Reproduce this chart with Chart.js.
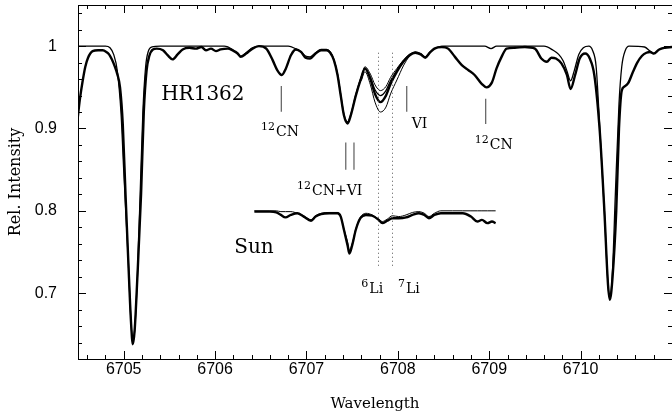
<!DOCTYPE html>
<html>
<head>
<meta charset="utf-8">
<script src="https://cdn.jsdelivr.net/npm/chart.js@4/dist/chart.umd.min.js"></script>
<style>
  html, body { margin: 0; padding: 0; background: #fff; }
  #wrap { width: 672px; height: 419px; }
</style>
</head>
<body>
<div id="wrap"><canvas id="chart" width="672" height="419"></canvas></div>
<script>
// HR1362 observed spectrum (thick line)
const obsWave = [6704.49, 6704.52, 6704.55, 6704.58, 6704.61, 6704.66, 6704.72, 6704.77, 6704.81, 6704.84,
  6704.87, 6704.90, 6704.93, 6704.96, 6704.99, 6705.02, 6705.05, 6705.08, 6705.10, 6705.12,
  6705.15, 6705.19, 6705.22, 6705.25, 6705.28, 6705.32, 6705.36, 6705.43, 6705.48, 6705.535,
  6705.59, 6705.645, 6705.72, 6705.79, 6705.85, 6705.90, 6705.955, 6706.01, 6706.06, 6706.14,
  6706.19, 6706.25, 6706.28, 6706.34, 6706.41, 6706.48, 6706.56, 6706.63, 6706.68, 6706.73,
  6706.775, 6706.83, 6706.885, 6706.94, 6706.99, 6707.04, 6707.10, 6707.16, 6707.22, 6707.26,
  6707.30, 6707.34, 6707.375, 6707.41, 6707.45, 6707.485, 6707.54, 6707.595, 6707.64, 6707.70,
  6707.75, 6707.81, 6707.87, 6707.92, 6707.99, 6708.06, 6708.13, 6708.19, 6708.25, 6708.30,
  6708.35, 6708.40, 6708.48, 6708.55, 6708.625, 6708.70, 6708.77, 6708.84, 6708.92, 6708.97,
  6709.03, 6709.08, 6709.135, 6709.19, 6709.28, 6709.39, 6709.50, 6709.57, 6709.63, 6709.68,
  6709.73, 6709.79, 6709.85, 6709.89, 6709.94, 6709.99, 6710.05, 6710.10, 6710.15, 6710.21,
  6710.26, 6710.30, 6710.32, 6710.35, 6710.39, 6710.42, 6710.45, 6710.48, 6710.52, 6710.57,
  6710.62, 6710.67, 6710.72, 6710.76, 6710.80, 6710.86, 6710.92, 6711.0];
const obsFlux = [0.906, 0.935, 0.957, 0.975, 0.986, 0.994, 0.995, 0.995, 0.993, 0.990,
  0.984, 0.976, 0.966, 0.950, 0.905, 0.820, 0.740, 0.665, 0.638, 0.655,
  0.720, 0.820, 0.920, 0.970, 0.988, 0.996, 0.997, 0.995, 0.989, 0.984,
  0.990, 0.996, 0.998, 0.997, 0.999, 0.995, 0.997, 0.994, 0.996, 0.997,
  0.995, 0.991, 0.987, 0.991, 0.997, 1.000, 0.997, 0.983, 0.971, 0.965,
  0.973, 0.989, 0.996, 0.993, 0.986, 0.985, 0.991, 0.995, 0.995, 0.992,
  0.983, 0.965, 0.940, 0.916, 0.906, 0.916, 0.940, 0.960, 0.973, 0.960,
  0.942, 0.932, 0.940, 0.954, 0.969, 0.981, 0.989, 0.992, 0.990, 0.986,
  0.992, 0.997, 0.999, 0.997, 0.987, 0.977, 0.971, 0.965, 0.954, 0.950,
  0.956, 0.973, 0.987, 0.997, 0.998, 0.999, 0.997, 0.985, 0.981, 0.986,
  0.985, 0.979, 0.965, 0.948, 0.965, 0.985, 0.991, 0.985, 0.965, 0.896,
  0.800, 0.710, 0.692, 0.720, 0.800, 0.900, 0.946, 0.951, 0.955, 0.968,
  0.980, 0.988, 0.992, 0.993, 0.991, 0.996, 0.998, 0.999];

// synthetic spectrum (thin line)
const synWave = [6704.49, 6704.80, 6704.85, 6704.89, 6704.93, 6704.97, 6705.00, 6705.05, 6705.08, 6705.10,
  6705.12, 6705.15, 6705.18, 6705.21, 6705.24, 6705.27, 6705.31, 6705.40, 6706.10, 6706.19,
  6706.25, 6706.28, 6706.34, 6706.41, 6706.48, 6706.80, 6706.88, 6706.94, 6706.99, 6707.04,
  6707.10, 6707.16, 6707.22, 6707.26, 6707.30, 6707.34, 6707.375, 6707.41, 6707.45, 6707.485,
  6707.54, 6707.595, 6707.64, 6707.70, 6707.75, 6707.81, 6707.87, 6707.92, 6707.99, 6708.06,
  6708.13, 6708.19, 6708.25, 6708.30, 6708.35, 6708.42, 6708.50, 6708.95, 6709.02, 6709.08,
  6709.60, 6709.70, 6709.76, 6709.81, 6709.85, 6709.89, 6709.93, 6709.98, 6710.03, 6710.09,
  6710.13, 6710.17, 6710.21, 6710.26, 6710.30, 6710.32, 6710.35, 6710.38, 6710.42, 6710.45,
  6710.49, 6710.53, 6710.70, 6710.76, 6710.80, 6710.86, 6710.92, 6711.0];
const synFlux = [1.000, 1.000, 0.998, 0.990, 0.970, 0.920, 0.850, 0.740, 0.665, 0.640,
  0.655, 0.720, 0.820, 0.920, 0.975, 0.994, 0.999, 1.000, 1.000, 0.996,
  0.990, 0.988, 0.992, 0.998, 1.000, 1.000, 0.997, 0.993, 0.988, 0.987,
  0.992, 0.996, 0.996, 0.993, 0.984, 0.966, 0.941, 0.917, 0.908, 0.917,
  0.941, 0.961, 0.972, 0.962, 0.947, 0.940, 0.946, 0.958, 0.971, 0.982,
  0.990, 0.993, 0.991, 0.987, 0.993, 0.998, 1.000, 1.000, 0.997, 1.000,
  1.000, 0.995, 0.990, 0.982, 0.970, 0.958, 0.970, 0.990, 0.998, 1.000,
  0.995, 0.975, 0.900, 0.800, 0.710, 0.693, 0.730, 0.820, 0.930, 0.975,
  0.995, 1.000, 0.999, 0.994, 0.991, 0.996, 0.998, 0.999];

// synthetic Li profiles, lower and higher Li
const liWave = [6707.60, 6707.64, 6707.70, 6707.75, 6707.81, 6707.87, 6707.92, 6707.99, 6708.06, 6708.13];
const liLowFlux = [0.962, 0.975, 0.966, 0.953, 0.946, 0.951, 0.962, 0.973, 0.983, 0.990];
const liHighFlux = [0.958, 0.969, 0.953, 0.932, 0.920, 0.926, 0.942, 0.959, 0.976, 0.989];

// solar spectrum, shifted down by 0.2
const sunWave = [6706.43, 6706.60, 6706.67, 6706.72, 6706.77, 6706.83, 6706.90, 6706.97, 6707.05, 6707.10,
  6707.16, 6707.25, 6707.34, 6707.375, 6707.41, 6707.45, 6707.47, 6707.50, 6707.54, 6707.59,
  6707.65, 6707.72, 6707.79, 6707.83, 6707.885, 6707.94, 6708.01, 6708.09, 6708.16, 6708.23,
  6708.29, 6708.34, 6708.40, 6708.47, 6708.60, 6708.71, 6708.80, 6708.87, 6708.92, 6708.98,
  6709.03, 6709.07];
const sunObsFlux = [0.799, 0.799, 0.798, 0.795, 0.792, 0.795, 0.797, 0.793, 0.788, 0.793,
  0.796, 0.797, 0.797, 0.793, 0.777, 0.758, 0.748, 0.758, 0.777, 0.791,
  0.795, 0.794, 0.789, 0.785, 0.788, 0.791, 0.791, 0.792, 0.795, 0.797,
  0.795, 0.791, 0.795, 0.797, 0.797, 0.797, 0.793, 0.787, 0.789, 0.785,
  0.787, 0.785];
const sunSynFlux = [0.800, 0.800, 0.800, 0.799, 0.799, 0.799, 0.797, 0.794, 0.789, 0.794,
  0.797, 0.798, 0.798, 0.793, 0.778, 0.762, 0.752, 0.760, 0.778, 0.792,
  0.797, 0.795, 0.790, 0.787, 0.790, 0.794, 0.793, 0.795, 0.798, 0.799,
  0.797, 0.793, 0.797, 0.800, 0.800, 0.800, 0.800, 0.800, 0.800, 0.800,
  0.800, 0.800];

const xTicks = [6705, 6706, 6707, 6708, 6709, 6710];
const yTicks = [0.7, 0.8, 0.9, 1];

// line identifications: [wavelength, top flux, bottom flux]
const markers = [[6706.725, 0.9515, 0.9204], [6708.097, 0.9515, 0.9204], [6708.961, 0.936, 0.9054],
  [6707.43, 0.883, 0.850], [6707.52, 0.883, 0.850]];
const liLines = [6707.78, 6707.933];
// labels: [sup, text, wavelength, flux]
const idLabels = [['12', 'CN', 6706.71, 0.891], ['', 'VI', 6708.237, 0.9005], ['12', 'CN', 6709.05, 0.8748],
  ['12', 'CN+VI', 6707.254, 0.8197], ['6', 'Li', 6707.72, 0.6998], ['7', 'Li', 6708.12, 0.6998]];
const starLabels = [['HR1362', 6705.41, 0.935], ['Sun', 6706.21, 0.749]];

function pts(xs, ys) { return xs.map((x, i) => ({ x: x, y: ys[i] })); }

function line(data, width) {
  return {
    data: data, showLine: true, borderColor: '#000', borderWidth: width,
    pointRadius: 0, cubicInterpolationMode: 'monotone', fill: false
  };
}

const framePlugin = {
  id: 'frame',
  afterDatasetsDraw(chart) {
    const { ctx, chartArea: a, scales: { x, y } } = chart;
    ctx.save();
    ctx.strokeStyle = '#000';
    ctx.lineWidth = 1;
    ctx.strokeRect(a.left + 0.5, a.top + 0.5, a.right - a.left, a.bottom - a.top);
    ctx.beginPath();
    for (let i = Math.ceil(x.min * 5); i <= Math.floor(x.max * 5); i++) {
      const px = Math.round(x.getPixelForValue(i / 5)) + 0.5;
      const len = i % 5 === 0 ? 8 : 4;
      ctx.moveTo(px, a.bottom); ctx.lineTo(px, a.bottom - len);
      ctx.moveTo(px, a.top); ctx.lineTo(px, a.top + len);
    }
    for (let i = Math.ceil(y.min * 50); i <= Math.floor(y.max * 50); i++) {
      const py = Math.round(y.getPixelForValue(i / 50)) + 0.5;
      const len = i % 5 === 0 ? 8 : 4;
      ctx.moveTo(a.left, py); ctx.lineTo(a.left + len, py);
      ctx.moveTo(a.right, py); ctx.lineTo(a.right - len, py);
    }
    ctx.stroke();

    // identification ticks
    ctx.strokeStyle = '#6a6a6a';
    ctx.lineWidth = 1.3;
    ctx.beginPath();
    markers.forEach(m => {
      const px = x.getPixelForValue(m[0]);
      ctx.moveTo(px, y.getPixelForValue(m[1]));
      ctx.lineTo(px, y.getPixelForValue(m[2]));
    });
    ctx.stroke();

    // Li positions, dotted
    ctx.strokeStyle = '#555';
    ctx.lineWidth = 1;
    ctx.setLineDash([1, 3]);
    ctx.beginPath();
    liLines.forEach(w => {
      const px = Math.round(x.getPixelForValue(w)) + 0.5;
      ctx.moveTo(px, y.getPixelForValue(0.992));
      ctx.lineTo(px, y.getPixelForValue(0.73));
    });
    ctx.stroke();
    ctx.setLineDash([]);

    ctx.fillStyle = '#000';
    ctx.textBaseline = 'alphabetic';
    idLabels.forEach(l => {
      const supFont = '11px "DejaVu Serif"', mainFont = '14px "DejaVu Serif"';
      ctx.font = supFont;
      const ws = l[0] ? ctx.measureText(l[0]).width + 1 : 0;
      ctx.font = mainFont;
      const wm = ctx.measureText(l[1]).width;
      const x0 = x.getPixelForValue(l[2]) - (ws + wm) / 2;
      const by = y.getPixelForValue(l[3]);
      if (l[0]) {
        ctx.font = supFont;
        ctx.fillText(l[0], x0, by - 6);
      }
      ctx.font = mainFont;
      ctx.fillText(l[1], x0 + ws, by);
    });
    ctx.font = '20px "DejaVu Serif"';
    starLabels.forEach(l => {
      ctx.fillText(l[0], x.getPixelForValue(l[1]), y.getPixelForValue(l[2]));
    });
    ctx.restore();
  }
};

new Chart(document.getElementById('chart'), {
  type: 'scatter',
  data: {
    datasets: [
      line(pts(obsWave, obsFlux), 2.4),
      line(pts(synWave, synFlux), 1.3),
      line(pts(liWave, liLowFlux), 1),
      line(pts(liWave, liHighFlux), 1),
      line(pts(sunWave, sunObsFlux), 2.4),
      line(pts(sunWave, sunSynFlux), 1)
    ]
  },
  options: {
    responsive: false,
    animation: false,
    layout: { padding: { top: 5, right: 0, left: 0, bottom: 0 } },
    plugins: { legend: { display: false }, tooltip: { enabled: false } },
    scales: {
      x: {
        type: 'linear', min: 6704.5, max: 6711,
        grid: { display: false }, border: { display: false },
        afterBuildTicks: s => { s.ticks = xTicks.map(v => ({ value: v })); },
        afterFit: s => { s.height = 60; s.paddingLeft = 0; s.paddingRight = 0; },
        ticks: {
          color: '#000', padding: -7, maxRotation: 0,
          font: { family: 'Liberation Sans', size: 16 },
          callback: v => String(v)
        },
        title: {
          display: true, text: 'Wavelength', color: '#000',
          font: { family: 'DejaVu Serif', size: 15 },
          padding: { top: 0, bottom: 6 }
        }
      },
      y: {
        type: 'linear', min: 0.62, max: 1.05,
        grid: { display: false }, border: { display: false },
        afterBuildTicks: s => { s.ticks = yTicks.map(v => ({ value: v })); },
        afterFit: s => { s.width = 78; s.paddingTop = 0; s.paddingBottom = 0; },
        ticks: {
          color: '#000', padding: 13,
          font: { family: 'Liberation Sans', size: 16 },
          callback: v => (v === 1 ? '1' : v.toFixed(1))
        },
        title: {
          display: true, text: 'Rel. Intensity', color: '#000',
          font: { family: 'DejaVu Serif', size: 16 },
          padding: { top: 6, bottom: 0 }
        }
      }
    }
  },
  plugins: [framePlugin]
});
</script>
</body>
</html>
